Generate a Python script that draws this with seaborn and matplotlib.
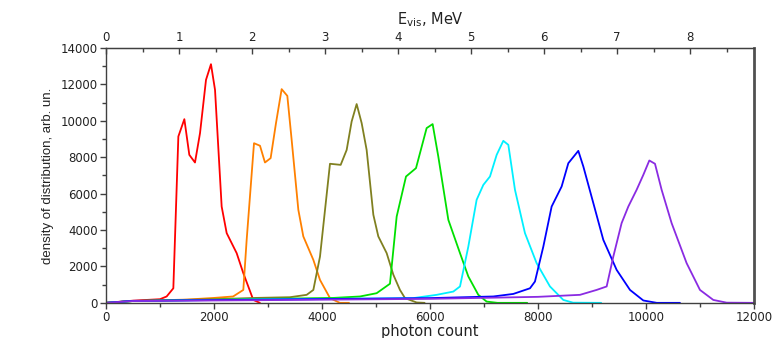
import numpy as np
import pandas as pd
import matplotlib
matplotlib.use("Agg")
import matplotlib.pyplot as plt
import seaborn as sns
from matplotlib.ticker import MultipleLocator

# Photon-count spectra for seven visible-energy bins
red_x = [0, 500, 1000, 1123, 1247, 1340, 1451, 1543, 1648, 1741, 1852, 1944, 2019, 2142, 2235, 2420, 2543, 2728, 2850]
red_y = [0, 120, 200, 350, 800, 9140, 10090, 8130, 7710, 9320, 12250, 13110, 11700, 5290, 3830, 2730, 1630, 160, 0]

orange_x = [0, 500, 1500, 2000, 2354, 2543, 2605, 2741, 2852, 2944, 3049, 3148, 3253, 3358, 3438, 3562, 3654, 3840, 3963, 4148, 4330, 4500]
orange_y = [0, 100, 180, 270, 350, 710, 3460, 8770, 8630, 7710, 7950, 9870, 11740, 11370, 8960, 5110, 3650, 2360, 1260, 260, 0, 0]

olive_x = [0, 500, 2000, 2766, 3407, 3716, 3840, 3963, 4148, 4346, 4457, 4549, 4642, 4735, 4827, 4951, 5043, 5198, 5321, 5444, 5537, 5753, 5900]
olive_y = [0, 100, 200, 270, 310, 440, 710, 2540, 7640, 7580, 8400, 9960, 10920, 9870, 8400, 4840, 3650, 2730, 1550, 710, 260, 20, 0]

green_x = [0, 500, 3000, 4210, 4704, 5012, 5259, 5383, 5556, 5741, 5938, 6049, 6154, 6340, 6556, 6710, 6895, 7049, 7250, 7800]
green_y = [0, 100, 220, 270, 350, 530, 1050, 4740, 6940, 7400, 9600, 9820, 8040, 4560, 2730, 1450, 440, 70, 0, 0]

cyan_x = [0, 500, 3000, 5000, 5691, 6123, 6432, 6556, 6710, 6864, 6988, 7111, 7235, 7358, 7451, 7574, 7759, 7975, 8222, 8469, 8650, 9170]
cyan_y = [0, 100, 200, 240, 260, 440, 620, 900, 3090, 5660, 6480, 6940, 8130, 8900, 8680, 6210, 3830, 2180, 900, 160, 10, 0]

blue_x = [0, 500, 3000, 6000, 7173, 7543, 7852, 7944, 8099, 8253, 8438, 8562, 8747, 8840, 9025, 9210, 9457, 9704, 9951, 10200, 10630]
blue_y = [0, 110, 180, 260, 350, 490, 800, 1170, 3090, 5290, 6390, 7670, 8350, 7490, 5480, 3460, 1810, 710, 130, 0, 0]

purple_x = [0, 500, 3000, 6000, 8000, 8778, 9086, 9272, 9395, 9549, 9673, 9827, 9951, 10062, 10167, 10290, 10475, 10753, 11000, 11247, 11494, 12000]
purple_y = [0, 100, 150, 220, 330, 440, 710, 900, 2540, 4380, 5290, 6210, 7030, 7820, 7640, 6210, 4380, 2180, 710, 160, 10, 0]

series = {
    "1 MeV": (red_x, red_y, "#ff0000"),
    "2 MeV": (orange_x, orange_y, "#ff8000"),
    "3 MeV": (olive_x, olive_y, "#808020"),
    "4 MeV": (green_x, green_y, "#00e000"),
    "5 MeV": (cyan_x, cyan_y, "#00f0ff"),
    "6 MeV": (blue_x, blue_y, "#0000ff"),
    "7 MeV": (purple_x, purple_y, "#8a2be2"),
}

# photons per MeV for the secondary energy axis
PHOTONS_PER_MEV = 1352.0

frames = []
for name, (xs, ys, _) in series.items():
    frames.append(pd.DataFrame({"photons": xs, "density": ys, "bin": name}))
df = pd.concat(frames, ignore_index=True)
palette = {name: c for name, (_, _, c) in series.items()}

sns.set_style("ticks")
plt.rcParams["font.family"] = ["DejaVu Sans"]

fig = plt.figure(figsize=(7.76, 3.38), dpi=100)
ax = fig.add_axes([0.1366, 0.104, 0.9716 - 0.1366, 0.858 - 0.104])

sns.lineplot(data=df, x="photons", y="density", hue="bin", palette=palette,
             sort=False, estimator=None, linewidth=1.3, legend=False, ax=ax)

ax.set_xlim(0, 12000)
ax.set_ylim(0, 14000)
ax.xaxis.set_major_locator(MultipleLocator(2000))
ax.xaxis.set_minor_locator(MultipleLocator(1000))
ax.yaxis.set_major_locator(MultipleLocator(2000))
ax.yaxis.set_minor_locator(MultipleLocator(1000))

axis_col = "#404040"
for side in ["left", "bottom", "top"]:
    ax.spines[side].set_visible(True)
    ax.spines[side].set_color(axis_col)
    ax.spines[side].set_linewidth(1.0)
ax.spines["right"].set_visible(True)
ax.spines["right"].set_color("#505050")
ax.spines["right"].set_linewidth(2.0)

ax.tick_params(axis="both", which="major", direction="out", length=4, width=1,
               color=axis_col, labelsize=8.5, labelcolor="#222222", pad=2)
ax.tick_params(axis="both", which="minor", direction="out", length=3, width=1, color=axis_col)
ax.tick_params(axis="y", which="both", right=False)
ax.tick_params(axis="x", which="both", top=False)

ax.set_xlabel("photon count", fontsize=10.5, color="#222222", labelpad=0)
ax.set_ylabel("density of distribution, arb. un.", fontsize=9.5, color="#222222",
              family="Liberation Sans", labelpad=5)

sec = ax.secondary_xaxis("top", functions=(lambda x: x / PHOTONS_PER_MEV,
                                           lambda e: e * PHOTONS_PER_MEV))
sec.xaxis.set_major_locator(MultipleLocator(1))
sec.xaxis.set_minor_locator(MultipleLocator(0.5))
sec.spines["top"].set_color(axis_col)
sec.tick_params(axis="x", which="major", direction="in", length=4, width=1,
                color=axis_col, labelsize=8.5, labelcolor="#222222", pad=3)
sec.tick_params(axis="x", which="minor", direction="in", length=3, width=1, color=axis_col)
sec.set_xlabel(r"E$_{\rm vis}$, MeV", fontsize=10.5, color="#222222", labelpad=5)

fig.savefig("out.png", dpi=100, facecolor="white")
